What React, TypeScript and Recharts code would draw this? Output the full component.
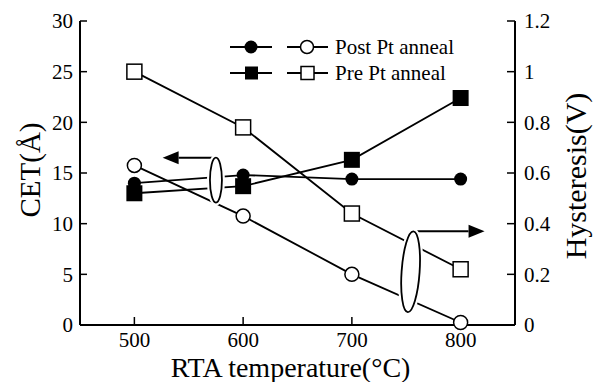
import { LineChart, Line, XAxis, YAxis, ReferenceLine, ReferenceDot, Legend } from 'recharts';

// RTA temperature (°C)
const temps = [500, 600, 700, 800];
// CET (Å), left axis
const cetPost = [14.0, 14.8, 14.4, 14.4];
const cetPre = [13.0, 13.7, 16.3, 22.4];
// Hysteresis (V), right axis
const hystPost = [0.63, 0.43, 0.2, 0.01];
const hystPre = [1.0, 0.78, 0.44, 0.22];

const xTicks = [500, 600, 700, 800];
const cetTicks = [0, 5, 10, 15, 20, 25, 30];
const hystTicks = [0, 0.2, 0.4, 0.6, 0.8, 1, 1.2];
const seriesNames = ['Post Pt anneal', 'Pre Pt anneal'];

// arrow + loop annotations, in data units
const cetArrow = [{ x: 575, y: 16.5 }, { x: 526, y: 16.5 }];
const cetLoop = { x: 575, y: 14.3 };
const hystArrow = [{ x: 755, y: 0.37 }, { x: 822, y: 0.37 }];
const hystLoop = { x: 754, y: 0.21 };

const rows = temps.map((t, i) => ({
    temp: t,
    cetPost: cetPost[i],
    cetPre: cetPre[i],
    hystPost: hystPost[i],
    hystPre: hystPre[i],
}));

const FONT = "'Liberation Serif', 'Times New Roman', serif";
const tickStyle = { fontSize: 21, fill: '#000', fontFamily: FONT };
const axisLine = { stroke: '#000', strokeWidth: 2 };
const tickLine = { stroke: '#000', strokeWidth: 1.5 };

const filledCircle = (p: any) => <circle key={`fc${p.index}`} cx={p.cx} cy={p.cy} r={6.5} fill="#000" />;
const openCircle = (p: any) => (
    <circle key={`oc${p.index}`} cx={p.cx} cy={p.cy} r={7} fill="#fff" stroke="#000" strokeWidth={1.5} />
);
const filledSquare = (p: any) => (
    <rect key={`fs${p.index}`} x={p.cx - 8} y={p.cy - 8} width={16} height={16} fill="#000" />
);
const openSquare = (p: any) => (
    <rect key={`os${p.index}`} x={p.cx - 7.5} y={p.cy - 7.5} width={15} height={15} fill="#fff" stroke="#000" strokeWidth={1.5} />
);

function Arrow(p: any) {
    const { x1, y1, x2, y2 } = p;
    const dir = Math.sign(x2 - x1);
    const head = 16;
    const half = 6.5;
    return (
        <g>
            <line x1={x1} y1={y1} x2={x2 - dir * head} y2={y2} stroke="#000" strokeWidth={2} />
            <polygon
                points={`${x2},${y2} ${x2 - dir * head},${y2 - half} ${x2 - dir * head},${y2 + half}`}
                fill="#000"
            />
        </g>
    );
}

const loop = (rx: number, ry: number, tilt: number) => (p: any) => (
    <g transform={`rotate(${tilt} ${p.cx} ${p.cy})`}>
        <ellipse cx={p.cx} cy={p.cy} rx={rx} ry={ry} fill="#fff" stroke="#fff" strokeWidth={6} />
        <ellipse cx={p.cx} cy={p.cy} rx={rx} ry={ry} fill="none" stroke="#000" strokeWidth={1.8} />
    </g>
);

function LegendBox() {
    const rowsY = [14, 40];
    return (
        <svg width={260} height={54} style={{ display: 'block' }}>
            {rowsY.map((y, i) => (
                <g key={i}>
                    <line x1={5} y1={y} x2={47} y2={y} stroke="#000" strokeWidth={2} />
                    {i === 0 ? (
                        <circle cx={26} cy={y} r={6.5} fill="#000" />
                    ) : (
                        <rect x={20} y={y - 6.5} width={13} height={13} fill="#000" />
                    )}
                    <line x1={62} y1={y} x2={103} y2={y} stroke="#000" strokeWidth={2} />
                    {i === 0 ? (
                        <circle cx={82} cy={y} r={6.5} fill="#fff" stroke="#000" strokeWidth={1.5} />
                    ) : (
                        <rect x={76} y={y - 6.5} width={13} height={13} fill="#fff" stroke="#000" strokeWidth={1.5} />
                    )}
                    <text x={110} y={y + 7} fontSize={21} fill="#000">
                        {seriesNames[i]}
                    </text>
                </g>
            ))}
        </svg>
    );
}

export default function App() {
    return (
        <div style={{ position: 'absolute', left: 0, top: 0, background: '#fff', fontFamily: FONT }}>
            <style>{`svg text { font-family: ${FONT} !important; }`}</style>
            <LineChart
                width={598}
                height={382}
                data={rows}
                margin={{ top: 21, right: 0, bottom: 0, left: 0 }}
            >
                <XAxis
                    dataKey="temp"
                    type="number"
                    domain={[450, 850]}
                    ticks={xTicks}
                    height={57}
                    tickSize={-8}
                    tickMargin={15}
                    axisLine={axisLine}
                    tickLine={tickLine}
                    tick={tickStyle}
                    label={{
                        value: 'RTA temperature(°C)',
                        position: 'insideBottom',
                        offset: 5,
                        dx: -7,
                        fontSize: 28,
                        fill: '#000',
                    }}
                />
                <XAxis
                    xAxisId="top"
                    orientation="top"
                    dataKey="temp"
                    type="number"
                    domain={[450, 850]}
                    ticks={xTicks}
                    height={0}
                    tickSize={-8}
                    axisLine={axisLine}
                    tickLine={tickLine}
                    tick={false}
                />
                <YAxis
                    yAxisId="left"
                    domain={[0, 30]}
                    ticks={cetTicks}
                    width={80}
                    tickSize={-7}
                    tickMargin={14}
                    axisLine={axisLine}
                    tickLine={tickLine}
                    tick={tickStyle}
                    label={{
                        value: 'CET(Å)',
                        angle: -90,
                        position: 'center',
                        dx: -10,
                        dy: -3,
                        fontSize: 29,
                        fill: '#000',
                    }}
                />
                <YAxis
                    yAxisId="right"
                    orientation="right"
                    domain={[0, 1.2]}
                    ticks={hystTicks}
                    width={83}
                    tickSize={-8}
                    tickMargin={17}
                    axisLine={axisLine}
                    tickLine={tickLine}
                    tick={{ ...tickStyle, textAnchor: 'start' }}
                    label={{
                        value: 'Hysteresis(V)',
                        angle: -90,
                        position: 'center',
                        dx: 19,
                        dy: 3,
                        fontSize: 30,
                        fill: '#000',
                    }}
                />
                <Line yAxisId="left" dataKey="cetPost" stroke="#000" strokeWidth={1.8} dot={filledCircle} isAnimationActive={false} />
                <Line yAxisId="left" dataKey="cetPre" stroke="#000" strokeWidth={1.8} dot={filledSquare} isAnimationActive={false} />
                <Line yAxisId="right" dataKey="hystPost" stroke="#000" strokeWidth={1.8} dot={openCircle} isAnimationActive={false} />
                <Line yAxisId="right" dataKey="hystPre" stroke="#000" strokeWidth={1.8} dot={openSquare} isAnimationActive={false} />
                <ReferenceDot yAxisId="left" x={cetLoop.x} y={cetLoop.y} shape={loop(6, 22.5, 0)} />
                <ReferenceDot yAxisId="right" x={hystLoop.x} y={hystLoop.y} shape={loop(9, 40.5, 4)} />
                <ReferenceLine yAxisId="left" segment={cetArrow} shape={Arrow} />
                <ReferenceLine yAxisId="right" segment={hystArrow} shape={Arrow} />
                <Legend
                    verticalAlign="middle"
                    align="center"
                    layout="horizontal"
                    wrapperStyle={{ top: 33, left: 225, width: 260, height: 54 }}
                    content={() => <LegendBox />}
                />
            </LineChart>
        </div>
    );
}
